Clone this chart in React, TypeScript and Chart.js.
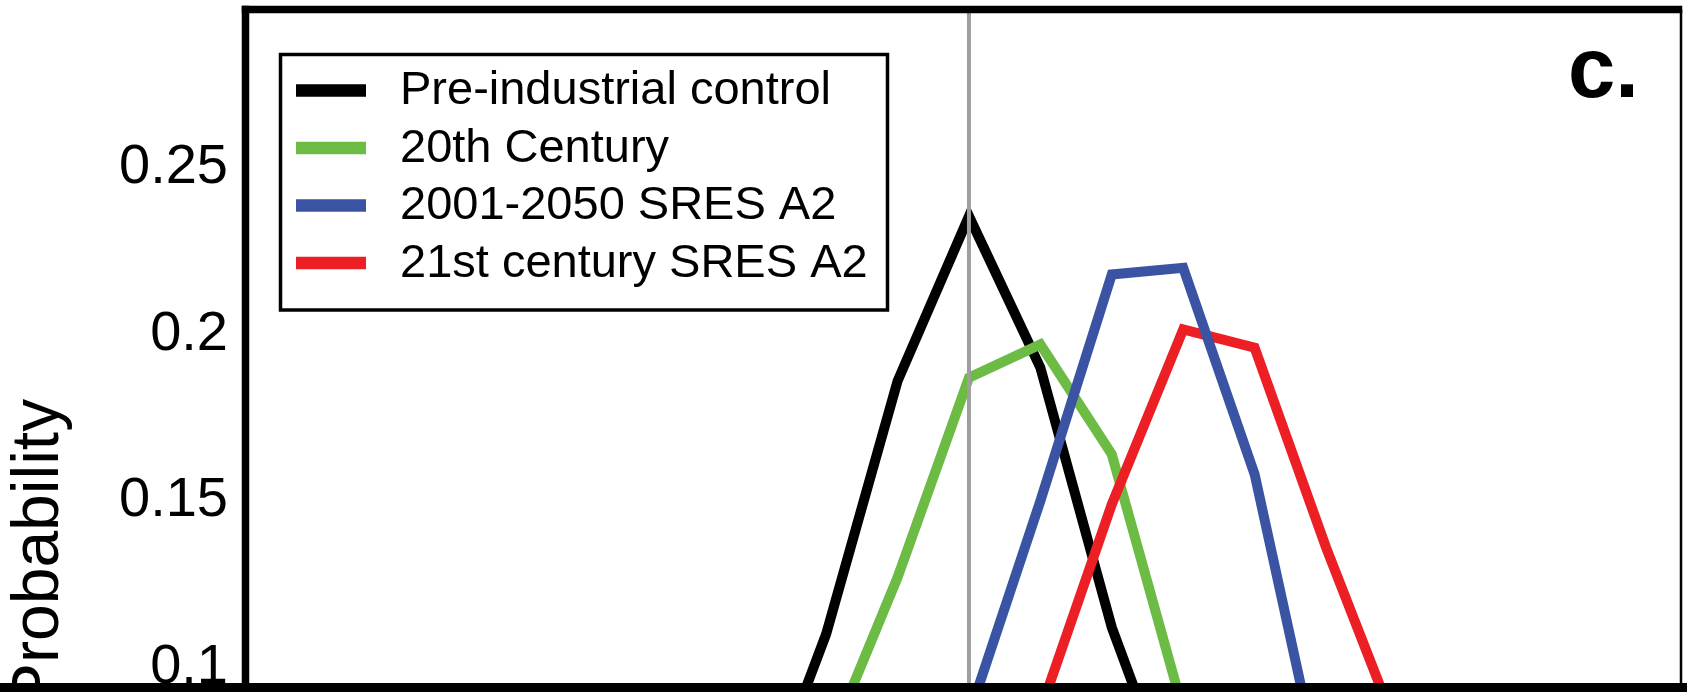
import React, { useEffect, useRef } from "react";
import { Chart, registerables } from "chart.js";

Chart.register(...registerables);

// Bin centres (relative to the reference line at 0)
const binCenters = [-3, -2, -1, 0, 1, 2, 3, 4, 5, 6];

// Probability per bin (null = bin not drawn in this crop)
const preIndustrial = [0.053, 0.11, 0.186, 0.2355, 0.19, 0.112, 0.054, null, null, null];
const twentiethCentury = [null, 0.075, 0.127, 0.187, 0.197, 0.164, 0.087, null, null, null];
const sres2001to2050 = [null, null, null, 0.0856, 0.15, 0.218, 0.22, 0.158, 0.06, null];
const sres21stCentury = [null, null, null, null, 0.087, 0.149, 0.2015, 0.196, 0.136, 0.081];

const seriesLabels = [
  "Pre-industrial control",
  "20th Century",
  "2001-2050 SRES A2",
  "21st century SRES A2",
];
const seriesColors = ["#000000", "#6cbb45", "#3a54a3", "#ec2024"];
const seriesDrawOrder = [3, 2, 0, 1];

const yTickValues = [0.1, 0.15, 0.2, 0.25];
const yAxisTitle = "Probability";
const panelLabel = "c.";
const referenceX = 0;
const xRange = [-10.13, 9.97];
const yRange = [0.0881, 0.2976];

const FONT = "'Liberation Sans', Arial, Helvetica, sans-serif";

function toPoints(values: (number | null)[]) {
  return binCenters
    .map((x, i) => ({ x, y: values[i] }))
    .filter((p) => p.y !== null) as { x: number; y: number }[];
}

const decorPlugin = {
  id: "decor",
  afterDatasetsDraw(chart: any) {
    const { ctx, chartArea: a, scales } = chart;
    const x0 = scales.x.getPixelForValue(referenceX);
    ctx.save();

    // reference vertical line
    ctx.strokeStyle = "#9e9e9e";
    ctx.lineWidth = 4;
    ctx.beginPath();
    ctx.moveTo(x0, a.top);
    ctx.lineTo(x0, a.bottom);
    ctx.stroke();

    // frame
    ctx.strokeStyle = "#000";
    ctx.lineWidth = 7.5;
    ctx.beginPath();
    ctx.moveTo(a.left, a.bottom);
    ctx.lineTo(a.left, a.top - 3.75);
    ctx.stroke();
    ctx.beginPath();
    ctx.moveTo(a.left - 3.75, a.top);
    ctx.lineTo(a.right + 1.25, a.top);
    ctx.stroke();
    ctx.lineWidth = 2.5;
    ctx.beginPath();
    ctx.moveTo(a.right, a.top);
    ctx.lineTo(a.right, a.bottom);
    ctx.stroke();

    // legend box
    const bx = a.left + 35;
    const by = a.top + 45;
    const bw = 607;
    const bh = 255.5;
    ctx.fillStyle = "#fff";
    ctx.fillRect(bx, by, bw, bh);
    ctx.strokeStyle = "#000";
    ctx.lineWidth = 3.5;
    ctx.strokeRect(bx, by, bw, bh);

    ctx.font = `47px ${FONT}`;
    ctx.textBaseline = "middle";
    ctx.textAlign = "left";
    chart.data.datasets.forEach((ds: any, i: number) => {
      const cy = by + 36 + i * 57.5;
      ctx.fillStyle = ds.borderColor;
      ctx.fillRect(bx + 15.5, cy - 6.25, 70, 12.5);
      ctx.fillStyle = "#000";
      ctx.fillText(ds.label, bx + 119.5, cy + 1);
    });

    // panel label
    ctx.font = `bold 85px ${FONT}`;
    ctx.textBaseline = "alphabetic";
    ctx.fillStyle = "#000";
    ctx.fillText(panelLabel, 1568, 97);

    ctx.restore();
  },
};

export default function App() {
  const ref = useRef<HTMLCanvasElement>(null);

  useEffect(() => {
    const series = [preIndustrial, twentiethCentury, sres2001to2050, sres21stCentury];
    const chart = new Chart(ref.current!, {
      type: "line",
      data: {
        datasets: series.map((values, i) => ({
          label: seriesLabels[i],
          data: toPoints(values),
          borderColor: seriesColors[i],
          backgroundColor: seriesColors[i],
          borderWidth: 10,
          pointRadius: 0,
          tension: 0,
          fill: false,
          borderJoinStyle: "miter",
          order: seriesDrawOrder[i],
        })),
      },
      options: {
        responsive: true,
        maintainAspectRatio: false,
        animation: false,
        layout: { padding: { left: 0, top: 9.5, right: 6, bottom: 13 } },
        plugins: {
          legend: { display: false },
          tooltip: { enabled: false },
        },
        scales: {
          x: {
            type: "linear",
            min: xRange[0],
            max: xRange[1],
            display: false,
          },
          y: {
            type: "linear",
            position: "left",
            min: yRange[0],
            max: yRange[1],
            grid: { display: false, drawTicks: false },
            border: { display: false },
            ticks: {
              color: "#000",
              font: { family: FONT, size: 56 },
              padding: 17.5,
              autoSkip: false,
              includeBounds: false,
              callback: (v: any) => String(v),
            },
            title: {
              display: true,
              text: yAxisTitle,
              align: "start",
              color: "#000",
              font: { family: FONT, size: 66 },
              padding: 0,
            },
            afterBuildTicks: (scale: any) => {
              scale.ticks = yTickValues.map((value) => ({ value }));
            },
            afterFit: (scale: any) => {
              scale.width = 245.5;
              scale.paddingTop = 0;
              scale.paddingBottom = 0;
            },
          },
        },
      },
      plugins: [decorPlugin],
    } as any);
    return () => chart.destroy();
  }, []);

  return (
    <div
      style={{
        position: "fixed",
        left: 0,
        top: 0,
        width: 1687,
        height: 692,
        overflow: "hidden",
        background: "#fff",
      }}
    >
      <div style={{ position: "absolute", left: 0, top: 0, width: 1687, height: 720 }}>
        <canvas ref={ref} />
      </div>
      <div
        style={{
          position: "absolute",
          left: 0,
          top: 683,
          width: 1687,
          height: 9,
          background: "#000",
        }}
      />
    </div>
  );
}
